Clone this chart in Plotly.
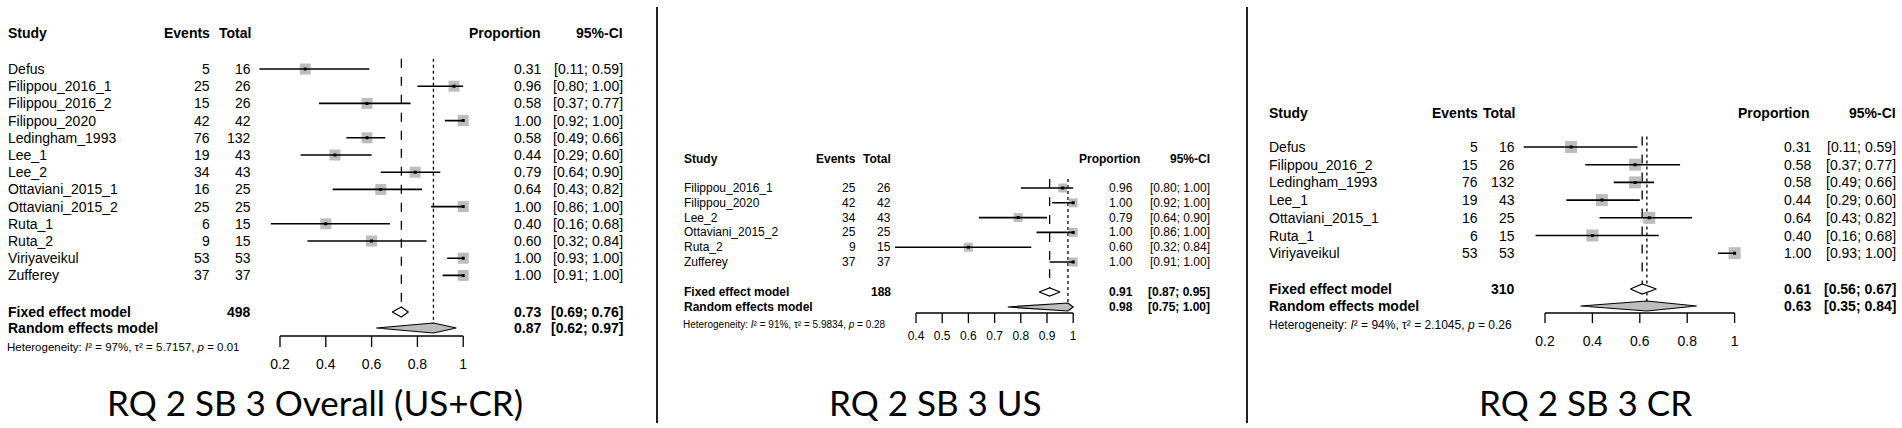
import plotly.graph_objects as go

W, H = 1902, 428

# ---------------- DATA ----------------
p1_studies = ["Defus", "Filippou_2016_1", "Filippou_2016_2", "Filippou_2020", "Ledingham_1993",
              "Lee_1", "Lee_2", "Ottaviani_2015_1", "Ottaviani_2015_2", "Ruta_1", "Ruta_2",
              "Viriyaveikul", "Zufferey"]
p1_events = [5, 25, 15, 42, 76, 19, 34, 16, 25, 6, 9, 53, 37]
p1_total = [16, 26, 26, 42, 132, 43, 43, 25, 25, 15, 15, 53, 37]
p1_prop = [0.31, 0.96, 0.58, 1.00, 0.58, 0.44, 0.79, 0.64, 1.00, 0.40, 0.60, 1.00, 1.00]
p1_lo = [0.11, 0.80, 0.37, 0.92, 0.49, 0.29, 0.64, 0.43, 0.86, 0.16, 0.32, 0.93, 0.91]
p1_hi = [0.59, 1.00, 0.77, 1.00, 0.66, 0.60, 0.90, 0.82, 1.00, 0.68, 0.84, 1.00, 1.00]
p1_fixed = [0.73, 0.69, 0.76]
p1_random = [0.87, 0.62, 0.97]
p1_sum = 498
p1_het = ["97%", "5.7157", "0.01"]
p1_ticks = [0.2, 0.4, 0.6, 0.8, 1.0]
p1_ticklabels = ["0.2", "0.4", "0.6", "0.8", "1"]
p1_title = "RQ 2 SB 3 Overall (US+CR)"

p2_studies = ["Filippou_2016_1", "Filippou_2020", "Lee_2", "Ottaviani_2015_2", "Ruta_2", "Zufferey"]
p2_events = [25, 42, 34, 25, 9, 37]
p2_total = [26, 42, 43, 25, 15, 37]
p2_prop = [0.96, 1.00, 0.79, 1.00, 0.60, 1.00]
p2_lo = [0.80, 0.92, 0.64, 0.86, 0.32, 0.91]
p2_hi = [1.00, 1.00, 0.90, 1.00, 0.84, 1.00]
p2_fixed = [0.91, 0.87, 0.95]
p2_random = [0.98, 0.75, 1.00]
p2_sum = 188
p2_het = ["91%", "5.9834", "0.28"]
p2_ticks = [0.4, 0.5, 0.6, 0.7, 0.8, 0.9, 1.0]
p2_ticklabels = ["0.4", "0.5", "0.6", "0.7", "0.8", "0.9", "1"]
p2_title = "RQ 2 SB 3 US"

p3_studies = ["Defus", "Filippou_2016_2", "Ledingham_1993", "Lee_1", "Ottaviani_2015_1", "Ruta_1", "Viriyaveikul"]
p3_events = [5, 15, 76, 19, 16, 6, 53]
p3_total = [16, 26, 132, 43, 25, 15, 53]
p3_prop = [0.31, 0.58, 0.58, 0.44, 0.64, 0.40, 1.00]
p3_lo = [0.11, 0.37, 0.49, 0.29, 0.43, 0.16, 0.93]
p3_hi = [0.59, 0.77, 0.66, 0.60, 0.82, 0.68, 1.00]
p3_fixed = [0.61, 0.56, 0.67]
p3_random = [0.63, 0.35, 0.84]
p3_sum = 310
p3_het = ["94%", "2.1045", "0.26"]
p3_ticks = [0.2, 0.4, 0.6, 0.8, 1.0]
p3_ticklabels = ["0.2", "0.4", "0.6", "0.8", "1"]
p3_title = "RQ 2 SB 3 CR"

# ---------------- LAYOUT (pixel geometry per panel) ----------------
panels = [
    dict(studies=p1_studies, events=p1_events, total=p1_total, prop=p1_prop, lo=p1_lo, hi=p1_hi,
         fixed=p1_fixed, random=p1_random, sum=p1_sum, het=p1_het, ticks=p1_ticks,
         ticklabels=p1_ticklabels, title=p1_title,
         row0=69, step=17.2, xref_v=0.2, xref_px=280, ppu=229, xr=[0.0, 1.1],
         name_x=6, events_r=212, total_r=253, prop_r=543, ci_r=625, head_prop_r=543,
         header_y=33, fixed_y=312, random_y=328, axis_y=336, tick_len=11, tl_y=365,
         het_y=347, het_x=5, title_x=315, font=14, het_font=11.5, sq=11, dh=5),
    dict(studies=p2_studies, events=p2_events, total=p2_total, prop=p2_prop, lo=p2_lo, hi=p2_hi,
         fixed=p2_fixed, random=p2_random, sum=p2_sum, het=p2_het, ticks=p2_ticks,
         ticklabels=p2_ticklabels, title=p2_title,
         row0=188, step=14.8, xref_v=0.4, xref_px=916, ppu=262, xr=[0.25, 1.1],
         name_x=682, events_r=858, total_r=893, prop_r=1135, ci_r=1212, head_prop_r=1142,
         header_y=159, fixed_y=292, random_y=307, axis_y=313, tick_len=10, tl_y=337,
         het_y=324, het_x=681, title_x=935, font=12, het_font=10, sq=9, dh=4),
    dict(studies=p3_studies, events=p3_events, total=p3_total, prop=p3_prop, lo=p3_lo, hi=p3_hi,
         fixed=p3_fixed, random=p3_random, sum=p3_sum, het=p3_het, ticks=p3_ticks,
         ticklabels=p3_ticklabels, title=p3_title,
         row0=147, step=17.7, xref_v=0.2, xref_px=1545, ppu=237, xr=[0.05, 1.1],
         name_x=1267, events_r=1480, total_r=1517, prop_r=1813, ci_r=1898, head_prop_r=1812,
         header_y=113, fixed_y=289, random_y=306, axis_y=313, tick_len=10, tl_y=342,
         het_y=325, het_x=1267, title_x=1585, font=14, het_font=12, sq=12, dh=5),
]
TITLE_Y = 402

FONT = "Arial, Liberation Sans, sans-serif"
TITLE_FONT = "Lato, Open Sans, sans-serif"
SQ_COLOR = "#bdbdbd"

fig = go.Figure()
annotations = []
layout_axes = {}

for k, P in enumerate(panels):
    n = k + 1
    xa = "x" if n == 1 else f"x{n}"
    ya = "y" if n == 1 else f"y{n}"
    xkey = "xaxis" if n == 1 else f"xaxis{n}"
    ykey = "yaxis" if n == 1 else f"yaxis{n}"

    def idx(py, P=P):
        return (py - P["row0"]) / P["step"]

    r_top = idx(0)
    r_bot = idx(H)
    pix = lambda v, P=P: P["xref_px"] + (v - P["xref_v"]) * P["ppu"]
    d0 = pix(P["xr"][0]) / W
    d1 = pix(P["xr"][1]) / W
    layout_axes[xkey] = dict(domain=[d0, d1], range=P["xr"], visible=False, anchor=ya, fixedrange=True)
    layout_axes[ykey] = dict(domain=[0, 1], range=[r_bot, r_top], visible=False, anchor=xa, fixedrange=True)

    nrow = len(P["studies"])
    rows = list(range(nrow))
    fy = idx(P["fixed_y"])
    ry = idx(P["random_y"])
    ay = idx(P["axis_y"])
    top = -0.6
    dh = P["dh"] / P["step"]

    # reference lines (fixed: dashed, random: dotted)
    fig.add_trace(go.Scatter(x=[P["fixed"][0]] * 2, y=[top, fy - dh], mode="lines",
                             line=dict(color="black", width=1.3, dash="dash"),
                             xaxis=xa, yaxis=ya, hoverinfo="skip", showlegend=False))
    fig.add_trace(go.Scatter(x=[P["random"][0]] * 2, y=[top, ry - dh], mode="lines",
                             line=dict(color="black", width=1.3, dash="dot"),
                             xaxis=xa, yaxis=ya, hoverinfo="skip", showlegend=False))
    # squares
    fig.add_trace(go.Scatter(x=P["prop"], y=rows, mode="markers",
                             marker=dict(symbol="square", size=P["sq"], color=SQ_COLOR, line=dict(width=0)),
                             xaxis=xa, yaxis=ya, hoverinfo="skip", showlegend=False, cliponaxis=False))
    # CI lines
    cx, cy = [], []
    for i in rows:
        cx += [P["lo"][i], P["hi"][i], None]
        cy += [i, i, None]
    fig.add_trace(go.Scatter(x=cx, y=cy, mode="lines", line=dict(color="black", width=1.6),
                             xaxis=xa, yaxis=ya, hoverinfo="skip", showlegend=False))
    # center dots
    fig.add_trace(go.Scatter(x=P["prop"], y=rows, mode="markers",
                             marker=dict(symbol="square", size=3, color="black"),
                             xaxis=xa, yaxis=ya, hoverinfo="skip", showlegend=False))
    # diamonds
    for (est, lo, hi), yy, fill in [(P["fixed"], fy, "white"), (P["random"], ry, "#bdbdbd")]:
        fig.add_trace(go.Scatter(x=[lo, est, hi, est, lo], y=[yy, yy - dh, yy, yy + dh, yy],
                                 mode="lines", fill="toself", fillcolor=fill,
                                 line=dict(color="black", width=1.2),
                                 xaxis=xa, yaxis=ya, hoverinfo="skip", showlegend=False))
    # axis
    t0, t1 = P["ticks"][0], P["ticks"][-1]
    tl = P["tick_len"] / P["step"]
    axx = [t0, t1, None]
    axy = [ay, ay, None]
    for t in P["ticks"]:
        axx += [t, t, None]
        axy += [ay, ay + tl, None]
    fig.add_trace(go.Scatter(x=axx, y=axy, mode="lines", line=dict(color="black", width=1.3),
                             xaxis=xa, yaxis=ya, hoverinfo="skip", showlegend=False))
    fig.add_trace(go.Scatter(x=P["ticks"], y=[idx(P["tl_y"])] * len(P["ticks"]), mode="text",
                             text=P["ticklabels"], textposition="middle center",
                             textfont=dict(family=FONT, size=P["font"], color="black"),
                             xaxis=xa, yaxis=ya, hoverinfo="skip", showlegend=False, cliponaxis=False))

    f = P["font"]

    def ann(px, yv, text, anchor, bold=False, size=None, family=FONT):
        annotations.append(dict(x=px / W, xref="paper", y=yv, yref=ya, text=(f"<b>{text}</b>" if bold else text),
                                xanchor=anchor, yanchor="middle", showarrow=False,
                                font=dict(family=family, size=size or f, color="black")))

    hy = idx(P["header_y"])
    ann(P["name_x"], hy, "Study", "left", True)
    ann(P["events_r"], hy, "Events", "right", True)
    ann(P["total_r"], hy, "Total", "right", True)
    ann(P["head_prop_r"], hy, "Proportion", "right", True)
    ann(P["ci_r"], hy, "95%-CI", "right", True)
    for i in rows:
        ann(P["name_x"], i, P["studies"][i], "left")
        ann(P["events_r"], i, str(P["events"][i]), "right")
        ann(P["total_r"], i, str(P["total"][i]), "right")
        ann(P["prop_r"], i, f"{P['prop'][i]:.2f}", "right")
        ann(P["ci_r"], i, f"[{P['lo'][i]:.2f}; {P['hi'][i]:.2f}]", "right")
    ann(P["name_x"], fy, "Fixed effect model", "left", True)
    ann(P["total_r"], fy, str(P["sum"]), "right", True)
    ann(P["prop_r"], fy, f"{P['fixed'][0]:.2f}", "right", True)
    ann(P["ci_r"], fy, f"[{P['fixed'][1]:.2f}; {P['fixed'][2]:.2f}]", "right", True)
    ann(P["name_x"], ry, "Random effects model", "left", True)
    ann(P["prop_r"], ry, f"{P['random'][0]:.2f}", "right", True)
    ann(P["ci_r"], ry, f"[{P['random'][1]:.2f}; {P['random'][2]:.2f}]", "right", True)
    het = (f"Heterogeneity: <i>I</i>² = {P['het'][0]}, τ² = {P['het'][1]}, "
           f"<i>p</i> = {P['het'][2]}")
    ann(P["het_x"], idx(P["het_y"]), het, "left", size=P["het_font"])
    annotations.append(dict(x=P["title_x"] / W, xref="paper", y=1 - TITLE_Y / H, yref="paper",
                            text=P["title"], xanchor="center", yanchor="middle", showarrow=False,
                            font=dict(family=TITLE_FONT, size=35, color="black")))

shapes = []
for sx in [657, 1247]:
    shapes.append(dict(type="line", xref="paper", yref="paper", x0=sx / W, x1=sx / W,
                       y0=1 - 7 / H, y1=1 - 423 / H, line=dict(color="#222222", width=2)))

fig.update_layout(width=W, height=H, margin=dict(l=0, r=0, t=0, b=0),
                  paper_bgcolor="white", plot_bgcolor="white",
                  annotations=annotations, shapes=shapes, showlegend=False, hovermode=False,
                  **layout_axes)

fig.write_html("out.html", config={"displayModeBar": False},
               post_script="document.body.style.margin='0px';document.body.style.overflow='hidden';")
